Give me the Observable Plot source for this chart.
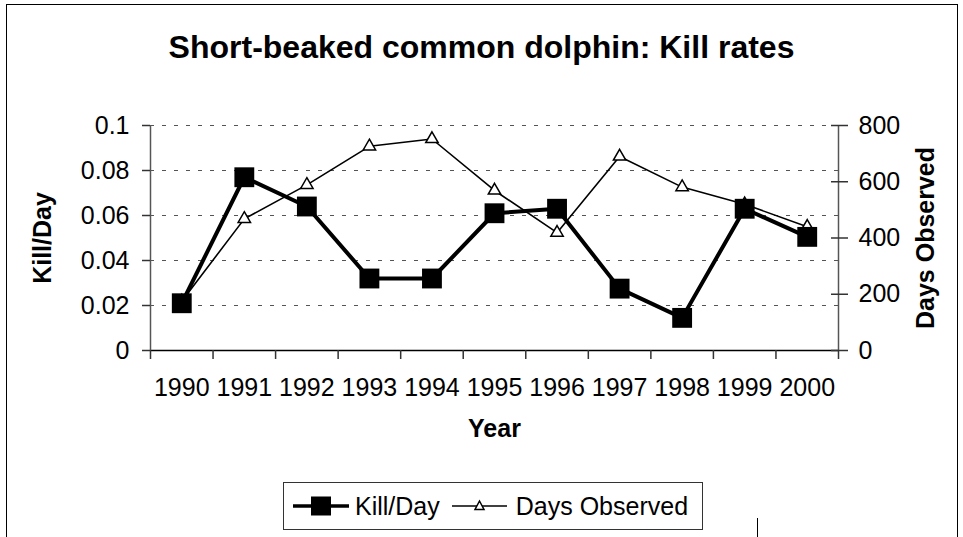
<!DOCTYPE html>
<html>
<head>
<meta charset="utf-8">
<script src="https://cdn.jsdelivr.net/npm/d3@7"></script>
<script src="https://cdn.jsdelivr.net/npm/@observablehq/plot@0.6"></script>
<style>
  html, body { margin: 0; padding: 0; background: #fff; }
  #wrap { position: relative; width: 963px; height: 537px; overflow: hidden; font-family: "Liberation Sans", Arial, sans-serif; color: #000; }
  #frame { position: absolute; left: 6px; top: 4px; width: 952px; height: 560px; border: 1.5px solid #000; border-bottom: none; box-sizing: border-box; }
  #title { position: absolute; left: 0; width: 963px; top: 30px; text-align: center; font-weight: bold; font-size: 32px; line-height: 34px; }
  #chart { position: absolute; left: 0; top: 0; }
  #legend { position: absolute; left: 283px; top: 482px; width: 420px; height: 48px; border: 1.5px solid #333; box-sizing: border-box; display: flex; align-items: center; font-size: 25px; }
  #legend svg { display: block; }
  #stub { position: absolute; left: 757px; top: 518px; width: 0; height: 30px; border-left: 1.5px solid #000; }
</style>
</head>
<body>
<div id="wrap">
  <div id="frame"></div>
  <div id="title">Short-beaked common dolphin: Kill rates</div>
  <div id="chart"></div>
  <div id="legend">
    <svg width="58" height="26" style="margin-left:9px">
      <line x1="0" y1="13" x2="56" y2="13" stroke="#000" stroke-width="3.5"/>
      <rect x="18" y="3.5" width="20" height="19" fill="#000"/>
    </svg>
    <span style="margin-left:4px">Kill/Day</span>
    <svg width="56" height="26" style="margin-left:12px">
      <line x1="0" y1="13" x2="55" y2="13" stroke="#000" stroke-width="1.5"/>
      <path d="M27.5,8 L32,16.5 L23,16.5 Z" fill="#fff" stroke="#000" stroke-width="1.5"/>
    </svg>
    <span style="margin-left:8px">Days Observed</span>
  </div>
  <div id="stub"></div>
</div>
<script>
// ---- data ----
const years = ["1990","1991","1992","1993","1994","1995","1996","1997","1998","1999","2000"];
const killPerDay = [0.021, 0.077, 0.064, 0.032, 0.032, 0.061, 0.063, 0.0275, 0.0145, 0.063, 0.0505];
const daysObserved = [175, 468, 589, 726, 752, 569, 419, 690, 581, 520, 440];
const killTicks = [0, 0.02, 0.04, 0.06, 0.08, 0.1];
const dayTicks = [0, 200, 400, 600, 800];
const killMax = 0.1;
const daysMax = 800;

const rows = years.map((y, i) => ({pos: i + 0.5, year: y, kill: killPerDay[i], days: daysObserved[i]}));
const daysToY = d => d * killMax / daysMax;
const bounds = d3.range(0, years.length + 1);
const font = "Liberation Sans, Arial, sans-serif";

const chart = Plot.plot({
  width: 963,
  height: 537,
  marginLeft: 150,
  marginRight: 125,
  marginTop: 125,
  marginBottom: 187,
  style: {fontFamily: font, fontSize: "25px", color: "#000", background: "transparent", overflow: "visible"},
  x: {type: "linear", domain: [0, years.length], axis: null, label: null},
  y: {domain: [0, killMax], axis: null, label: null},
  marks: [
    Plot.ruleY(killTicks.slice(1), {stroke: "#555", strokeWidth: 1.2, strokeDasharray: "4,8"}),
    Plot.ruleY([0], {stroke: "#000", strokeWidth: 1.5}),
    Plot.ruleX([0, years.length], {stroke: "#555", strokeWidth: 1.5}),
    Plot.axisX({ticks: bounds, tickSize: 9, tickFormat: () => "", stroke: "#333", strokeWidth: 1.5, label: null}),
    Plot.axisX({ticks: rows.map(d => d.pos), tickSize: 0, tickPadding: 28, tickFormat: d => years[Math.floor(d)], fontSize: 25, label: null}),
    Plot.axisY({anchor: "left", ticks: killTicks, tickSize: 8, tickPadding: 13, tickFormat: d3.format("~g"), fontSize: 25, stroke: "#333", strokeWidth: 1.5, label: null}),
    Plot.axisY({anchor: "right", ticks: dayTicks.map(daysToY), tickSize: 17, dx: -8, tickPadding: 11, tickFormat: d => Math.round(d * daysMax / killMax), fontSize: 25, stroke: "#333", strokeWidth: 1.5, label: null}),
    Plot.text(["Kill/Day"], {frameAnchor: "left", dx: -108, rotate: -90, textAnchor: "middle", fontWeight: "bold", fontSize: 25}),
    Plot.text(["Days Observed"], {frameAnchor: "right", dx: 87, rotate: -90, textAnchor: "middle", fontWeight: "bold", fontSize: 25}),
    Plot.text(["Year"], {frameAnchor: "bottom", dy: 86, fontWeight: "bold", fontSize: 25}),
    Plot.line(rows, {x: "pos", y: d => daysToY(d.days), stroke: "#000", strokeWidth: 1.6}),
    Plot.dot(rows, {x: "pos", y: d => daysToY(d.days), symbol: "triangle", r: 4.6, fill: "#fff", stroke: "#000", strokeWidth: 1.5}),
    Plot.line(rows, {x: "pos", y: "kill", stroke: "#000", strokeWidth: 4}),
    Plot.dot(rows, {x: "pos", y: "kill", symbol: "square", r: 11.2, fill: "#000", stroke: "none"})
  ]
});
document.getElementById("chart").appendChild(chart);
</script>
</body>
</html>
